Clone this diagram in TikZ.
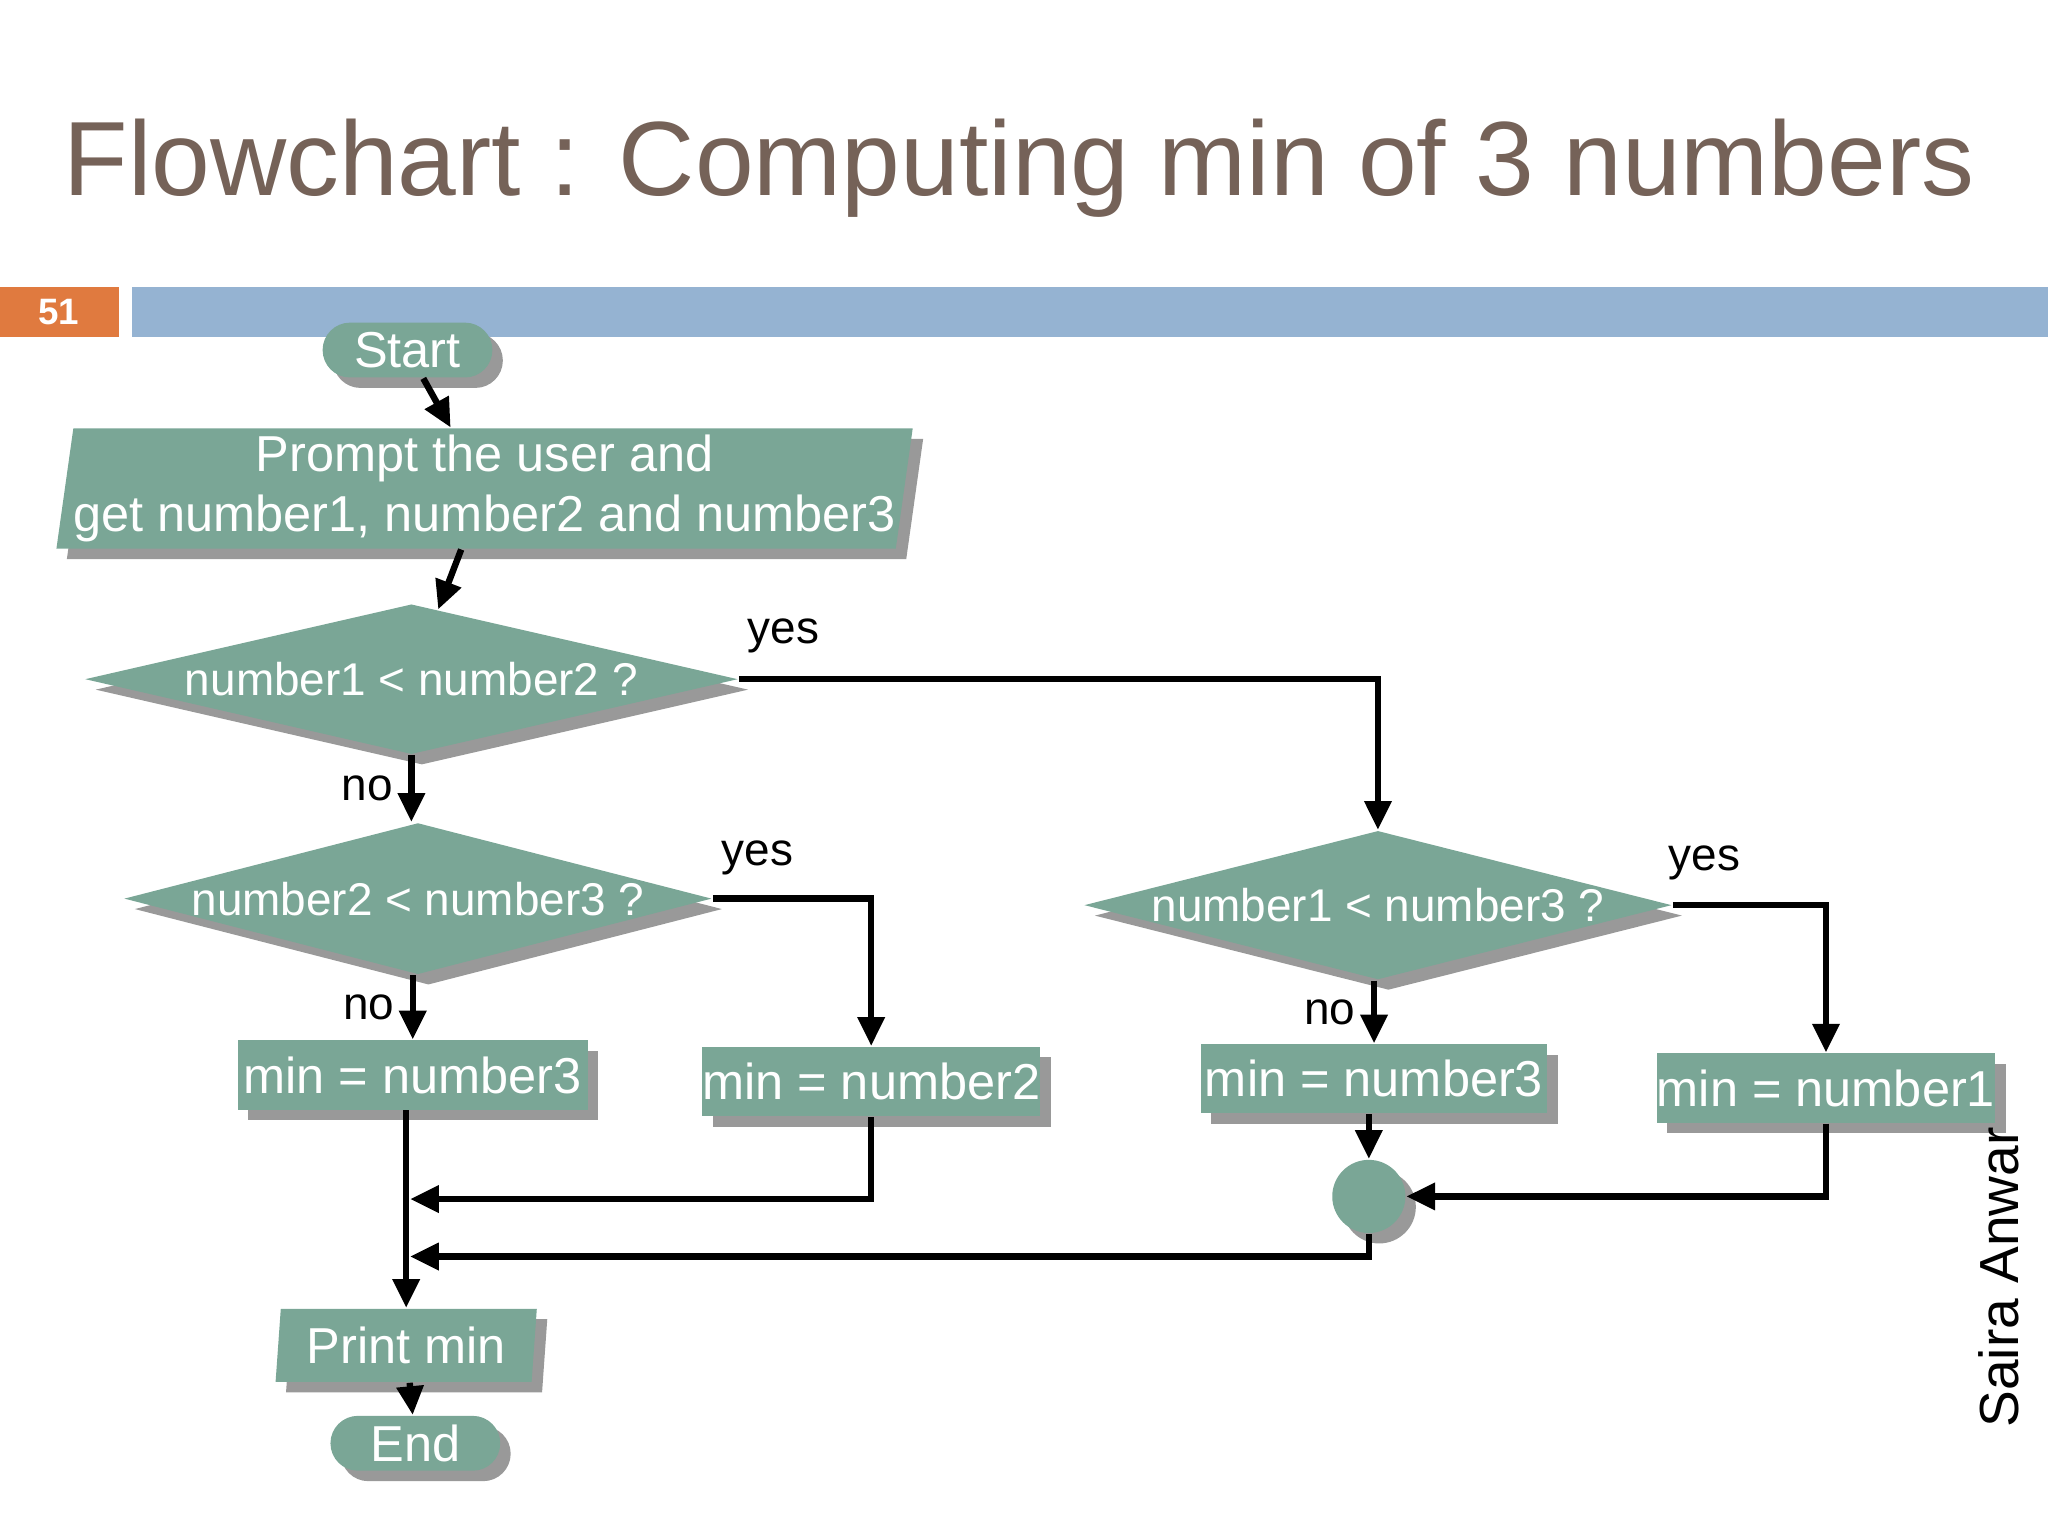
\documentclass[tikz,border=0pt]{standalone}
\usepackage{fontspec}
\setmainfont{Liberation Sans}
\usetikzlibrary{shapes.geometric,shapes.misc,shadows,arrows.meta}
\definecolor{teal1}{RGB}{122,166,150}
\definecolor{titlec}{RGB}{117,98,88}
\definecolor{orangec}{RGB}{224,122,63}
\definecolor{barc}{RGB}{149,179,210}
\begin{document}
\begin{tikzpicture}[x=0.1mm,y=-0.1mm,
  sh/.style={drop shadow={shadow xshift=0.8mm,shadow yshift=-0.8mm,fill=black!40,opacity=1}},
  blk/.style={fill=teal1,draw=none,sh,text=white,font=\fontsize{11}{13}\selectfont,inner sep=0pt},
  term/.style={blk,rounded rectangle,minimum width=1.3cm,minimum height=0.42cm},
  box/.style={blk,rectangle,minimum height=0.53cm},
  dec/.style={blk,diamond},
  io/.style={blk,trapezium,trapezium stretches body,trapezium left angle=81,trapezium right angle=99},
  ar/.style={line width=1.4pt,-{Triangle[length=2.2mm,width=2mm]}},
  ln/.style={line width=1.4pt},
  lab/.style={font=\fontsize{10}{12}\selectfont}]
\useasboundingbox (0,0) rectangle (1568,1176);
\node[anchor=base west,text=titlec,font=\fontsize{23}{27}\selectfont,inner sep=0pt] (title) at (48,150) {Flowchart : Computing min of 3 numbers};
\fill[orangec] (0,220) rectangle (91,258);
\node[text=white,font=\bfseries\fontsize{8}{10}\selectfont] (pg) at (45,239) {51};
\fill[barc] (101,220) rectangle (1568,258);

\node[term] (start) at (312,268) {Start};
\node[io,minimum width=6.5cm,minimum height=0.92cm,align=center] (prompt) at (371,374) {Prompt the user and\\get number1, number2 and number3};
\node[dec,minimum width=5cm,minimum height=1.15cm,label=center:{\textcolor{white}{number1 < number2 ?}}] (d1) at (315,520) {};
\node[dec,minimum width=4.5cm,minimum height=1.16cm,label=center:{\textcolor{white}{number2 < number3 ?}}] (d2) at (320,688) {};
\node[dec,minimum width=4.5cm,minimum height=1.14cm,label=center:{\textcolor{white}{number1 < number3 ?}}] (d3) at (1055,693) {};
\node[box,minimum width=2.68cm] (b1) at (316,823) {min = number3};
\node[box,minimum width=2.55cm] (b2) at (667,828) {min = number2};
\node[box,minimum width=2.65cm] (b3) at (1052,826) {min = number3};
\node[box,minimum width=2.53cm] (b4) at (1398,833) {min = number1};
\node[blk,circle,minimum size=0.56cm] (c) at (1048,916) {};
\node[io,trapezium left angle=82,trapezium right angle=98,minimum width=2cm,minimum height=0.56cm] (print) at (311,1030) {Print min};
\node[term] (end) at (318,1105) {End};
\node[rotate=90,font=\fontsize{12}{14}\selectfont] (author) at (1530,978) {Saira Anwar};

\coordinate (j1) at (314,918);
\coordinate (j2) at (314,962);
\draw[ar] (start) -- (prompt);
\draw[ar] (prompt) -- (d1);
\draw[ar] (d1.south) -- node[lab,left]{no} (d1.south |- d2.north);
\draw[ar] (d1.east) -- (d3.north |- d1.east) -- (d3.north);
\node[lab,anchor=south] (y1) at (600,512) {yes};
\draw[ar] (d2.south -| b1.north) -- node[lab,left]{no} (b1.north);
\draw[ar] (d2.east) -- (b2.north |- d2.east) -- (b2.north);
\node[lab,anchor=south] (y2) at (580,682) {yes};
\draw[ar] (d3.south -| b3.north) -- node[lab,left]{no} (b3.north);
\draw[ar] (d3.east) -- (b4.north |- d3.east) -- (b4.north);
\node[lab,anchor=south] (y3) at (1305,686) {yes};
\draw[ar] (b1.south -| print.north) -- (print.north);
\draw[ar] (b2.south) -- (b2.south |- j1) -- (j1);
\draw[ar] (b3.south -| c.north) -- (c.north);
\draw[ar] (b4.south) -- (b4.south |- c.east) -- (c.east);
\draw[ar] (c.south) -- (c.south |- j2) -- (j2);
\draw[ar] (print) -- (end);
\end{tikzpicture}
\end{document}
